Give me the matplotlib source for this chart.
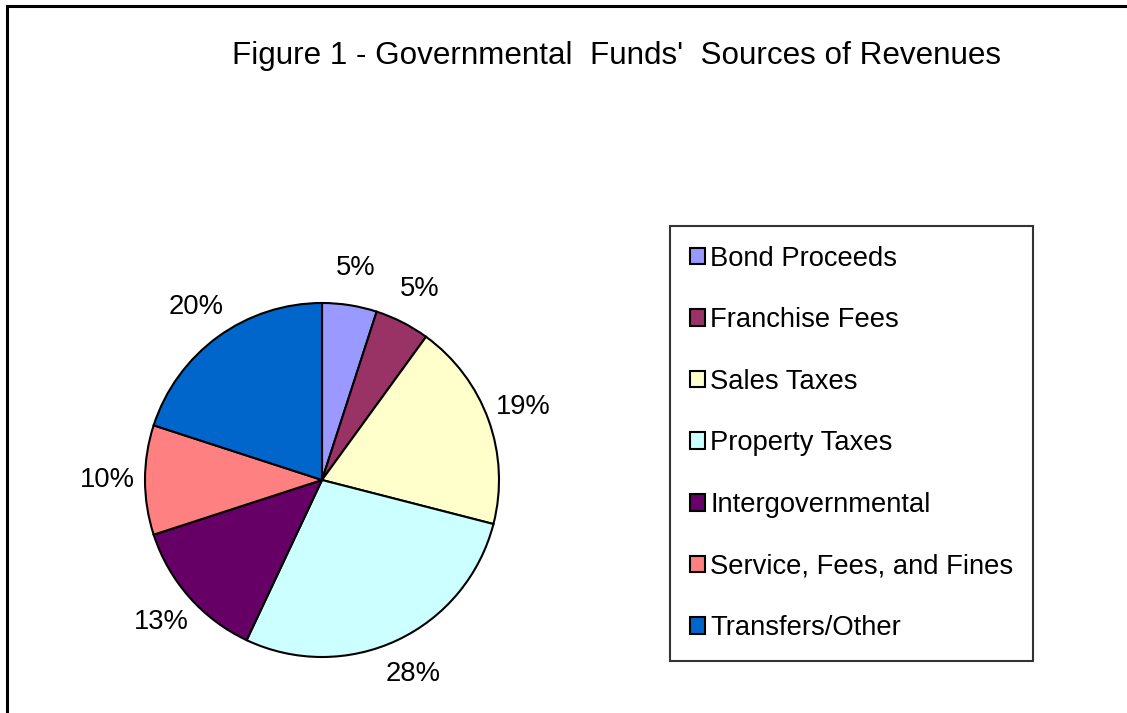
import matplotlib.pyplot as plt
from matplotlib.patches import Rectangle

plt.rcParams['font.family'] = ['Liberation Sans', 'DejaVu Sans']

# revenue sources, percent of total
sources = ['Bond Proceeds', 'Franchise Fees', 'Sales Taxes', 'Property Taxes',
           'Intergovernmental', 'Service, Fees, and Fines', 'Transfers/Other']
shares = [5, 5, 19, 28, 13, 10, 20]
colors = ['#9999FF', '#993366', '#FFFFCC', '#CCFFFF', '#660066', '#FF8080', '#0066CC']

W, H = 1127, 713


def main():
    fig = plt.figure(figsize=(W / 100, H / 100), dpi=100)

    # outer chart border (cut off on right and bottom like the original)
    fig.patches.append(Rectangle((7 / W, -0.1), 1.2, 1 - 6 / H + 0.1,
                                 transform=fig.transFigure, fill=False,
                                 edgecolor='black', linewidth=2.2))

    fig.text(617 / W, 1 - 64 / H, "Figure 1 - Governmental  Funds'  Sources of Revenues",
             ha='center', va='baseline', fontsize=22.6)

    cx, cy, r = 322, 480, 177
    ax = fig.add_axes([(cx - r) / W, (H - cy - r) / H, 2 * r / W, 2 * r / H])
    wedges, _, pcts = ax.pie(shares, colors=colors, startangle=90, counterclock=False,
                             autopct='%1.0f%%', pctdistance=1.21, radius=1,
                             wedgeprops=dict(edgecolor='black', linewidth=1.5),
                             textprops=dict(fontsize=19.7))
    ax.set_xlim(-1, 1)
    ax.set_ylim(-1, 1)
    ax.set_aspect('equal')
    ax.axis('off')

    leg = fig.legend(wedges, sources, loc='upper left',
                     bbox_to_anchor=(670 / W, 1 - 226 / H),
                     fontsize=19.7, frameon=True, fancybox=False,
                     edgecolor='black', borderpad=0.72, labelspacing=1.3,
                     handlelength=0.55, handleheight=0.55, handletextpad=0.2,
                     borderaxespad=0)
    leg.get_frame().set_linewidth(1.5)
    for h in leg.legend_handles:
        h.set_linewidth(1.5)

    plt.savefig('out.png', dpi=100)


if __name__ == "__main__":
    main()
